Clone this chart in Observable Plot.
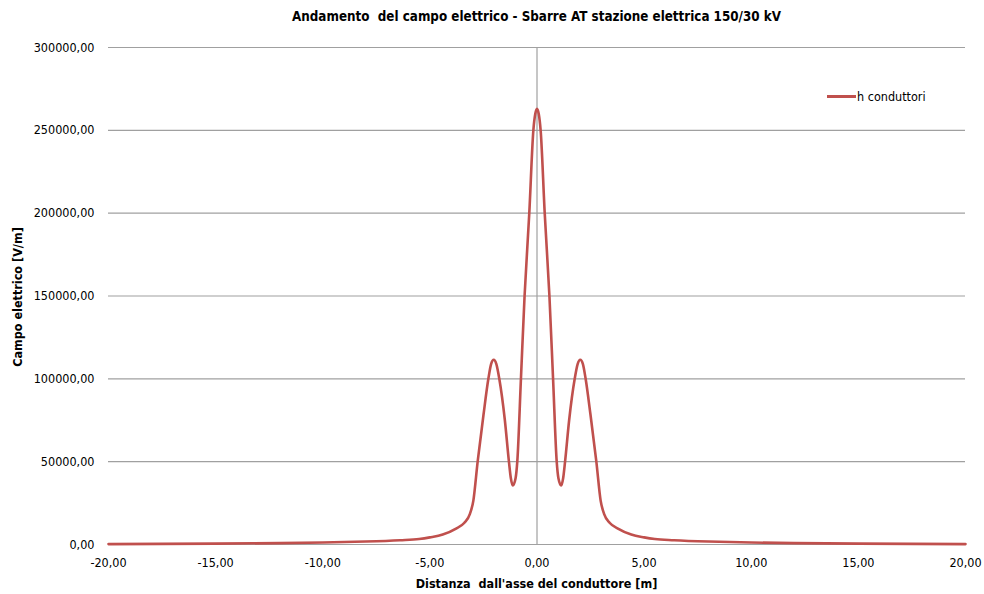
<!DOCTYPE html>
<html>
<head>
<meta charset="utf-8">
<script src="https://cdn.jsdelivr.net/npm/d3@7"></script>
<script src="https://cdn.jsdelivr.net/npm/@observablehq/plot@0.6"></script>
<style>
  html, body { margin: 0; padding: 0; background: #fff; }
  #wrap { position: relative; width: 984px; height: 594px; font-family: "Liberation Sans Narrow", "DejaVu Sans Condensed", "Open Sans", sans-serif; color: #000; }
  #wrap svg { position: absolute; left: 0; top: 0; }
  .title { position: absolute; top: 9px; left: 108px; width: 857px; text-align: center; font-weight: bold; font-size: 13.3px; white-space: pre; }
  .xlabel { position: absolute; top: 576px; left: 108px; width: 857px; text-align: center; font-weight: bold; font-size: 12.5px; white-space: pre; }
  .ylabel { position: absolute; left: 17px; top: 297px; transform: translate(-50%, -50%) rotate(-90deg); white-space: nowrap; font-weight: bold; font-size: 12.5px; }
  .legend { position: absolute; left: 827px; top: 89px; display: flex; align-items: center; font-size: 12.5px; }
  .legend .sw { width: 29px; height: 3px; background: #C0504D; margin-right: 1px; }
</style>
</head>
<body>
<div id="wrap"></div>
<script>
// Distance from conductor axis [m]
const distanza = [-20, -15, -12, -10, -8, -6.4, -5.5, -5, -4.4, -3.8, -3.4, -3.13, -2.97, -2.77, -2.5, -2.27, -2.14, -2.02, -1.9, -1.76, -1.5, -1.31, -1.22, -1.13, -1, -0.92, -0.75, -0.58, -0.36, -0.17, -0.08,
  0,
  0.08, 0.17, 0.36, 0.58, 0.75, 0.92, 1, 1.13, 1.22, 1.31, 1.5, 1.76, 1.9, 2.02, 2.14, 2.27, 2.5, 2.77, 2.97, 3.13, 3.4, 3.8, 4.4, 5, 5.5, 6.4, 8, 10, 12, 15, 20];
// Electric field [V/m]
const campo = [250, 500, 850, 1200, 1800, 2600, 3300, 4300, 6000, 9500, 13000, 18500, 26500, 50000, 78000, 100000, 109000, 111500, 109000, 100000, 75000, 50000, 40000, 35600, 40000, 50000, 100000, 150000, 200000, 250000, 260000,
  263000,
  260000, 250000, 200000, 150000, 100000, 50000, 40000, 35600, 40000, 50000, 75000, 100000, 109000, 111500, 109000, 100000, 78000, 50000, 26500, 18500, 13000, 9500, 6000, 4300, 3300, 2600, 1800, 1200, 850, 500, 250];

const xTicks = [-20, -15, -10, -5, 0, 5, 10, 15, 20];
const yTicks = [0, 50000, 100000, 150000, 200000, 250000, 300000];
const seriesName = "h conduttori";
const titleText = "Andamento  del campo elettrico - Sbarre AT stazione elettrica 150/30 kV";
const xLabelText = "Distanza  dall'asse del conduttore [m]";
const yLabelText = "Campo elettrico [V/m]";

const data = distanza.map((d, i) => ({x: d, y: campo[i]}));
const fmt = d => d.toFixed(2).replace(".", ",");

const chart = Plot.plot({
  width: 984,
  height: 594,
  marginLeft: 108,
  marginRight: 19,
  marginTop: 47,
  marginBottom: 50,
  style: { fontFamily: "'Liberation Sans Narrow', 'DejaVu Sans Condensed', 'Open Sans', sans-serif", fontSize: "12.5px", color: "#000", background: "transparent" },
  x: { domain: [-20, 20] },
  y: { domain: [0, 300000] },
  marks: [
    Plot.gridY(yTicks, { stroke: "#a0a0a0", strokeOpacity: 1, strokeWidth: 1.2 }),
    Plot.ruleX([0], { stroke: "#a0a0a0", strokeWidth: 1.2 }),
    Plot.axisX(xTicks, { tickSize: 0, tickPadding: 14, tickFormat: fmt, label: null, fontSize: 12.5 }),
    Plot.axisY(yTicks, { tickSize: 0, tickPadding: 14, tickFormat: fmt, label: null, fontSize: 12.5 }),
    Plot.line(data, { x: "x", y: "y", stroke: "#C0504D", strokeWidth: 2.6, curve: "monotone-x" })
  ]
});

const wrap = document.getElementById("wrap");
wrap.appendChild(chart);
const add = (cls, txt) => { const d = document.createElement("div"); d.className = cls; d.textContent = txt; wrap.appendChild(d); return d; };
add("title", titleText);
add("xlabel", xLabelText);
add("ylabel", yLabelText);
const lg = document.createElement("div");
lg.className = "legend";
lg.innerHTML = '<span class="sw"></span><span></span>';
lg.lastChild.textContent = seriesName;
wrap.appendChild(lg);
</script>
</body>
</html>
